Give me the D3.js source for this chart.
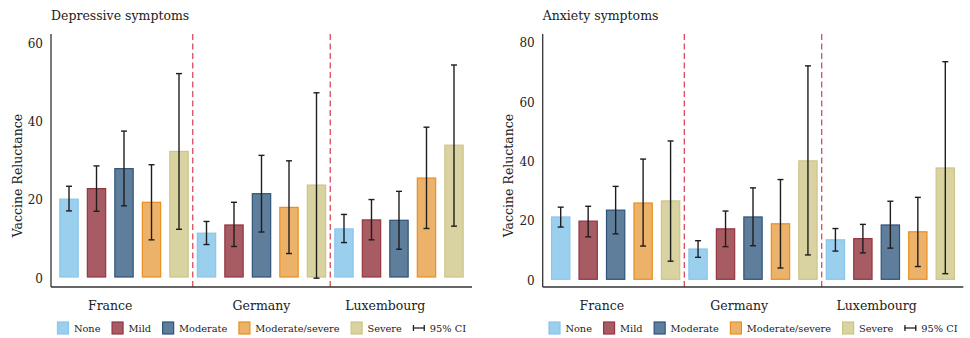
<!DOCTYPE html>
<html>
<head>
<meta charset="utf-8">
<script src="https://cdn.jsdelivr.net/npm/d3@7"></script>
<style>
  html, body { margin: 0; padding: 0; background: #fff; }
  svg { display: block; }
  text { font-family: "DejaVu Serif", "Liberation Serif", serif; fill: #222; }
</style>
</head>
<body>
<svg id="chart" width="970" height="338"></svg>
<script>
// Countries and symptom levels
const countries = ["France", "Germany", "Luxembourg"];
const levels = ["None", "Mild", "Moderate", "Moderate/severe", "Severe"];
const levelColors = ["#9bcfee", "#a65c62", "#5f7e9c", "#edb269", "#d9d3a2"];
const levelStrokes = ["#8ac5ec", "#963442", "#2f537a", "#e8901d", "#cdc487"];

// Depressive symptoms: estimate, lower and upper 95% CI (per country, per level)
const depEst = [
  [19.9, 22.6, 27.7, 19.1, 32.1],
  [11.2, 13.3, 21.3, 17.8, 23.5],
  [12.3, 14.6, 14.5, 25.3, 33.7]
];
const depLow = [
  [16.9, 16.8, 18.2, 9.5, 12.2],
  [8.3, 7.8, 11.5, 6.0, -0.3],
  [8.8, 9.5, 7.1, 12.4, 13.0]
];
const depHigh = [
  [23.2, 28.4, 37.3, 28.7, 52.0],
  [14.2, 19.1, 31.1, 29.7, 47.1],
  [16.0, 19.8, 21.9, 38.3, 54.2]
];

// Anxiety symptoms
const anxEst = [
  [21.0, 19.6, 23.3, 25.7, 26.4],
  [10.2, 17.0, 21.0, 18.7, 39.9],
  [13.3, 13.7, 18.3, 16.0, 37.5]
];
const anxLow = [
  [17.6, 14.3, 15.3, 11.2, 6.1],
  [7.4, 11.0, 11.3, 3.8, 8.2],
  [9.5, 8.9, 10.5, 4.3, 1.9]
];
const anxHigh = [
  [24.3, 24.6, 31.3, 40.5, 46.6],
  [13.0, 23.0, 30.8, 33.6, 71.9],
  [17.1, 18.5, 26.3, 27.6, 73.3]
];

const depTicks = [0, 20, 40, 60];
const anxTicks = [0, 20, 40, 60, 80];

// Where each country name sits, as a bar index within its group
const depLabelAt = [1.5, 2, 1.5];
const anxLabelAt = [1.5, 1.5, 1.5];

const svg = d3.select("#chart");

function drawPanel(opt) {
  const g = svg.append("g");
  const { left, right, top, axisY, zeroY, topVal, topY } = opt;

  // one band per bar, all countries in a row
  const keys = [];
  countries.forEach((c, ci) => levels.forEach((l, li) => keys.push(ci + "|" + li)));
  const x = d3.scaleBand().domain(keys).range([left, right])
    .paddingInner(0.29).paddingOuter(0.3);
  const y = d3.scaleLinear().domain([0, topVal]).range([zeroY, topY]);

  const rows = [];
  countries.forEach((c, ci) => levels.forEach((l, li) => rows.push({
    key: ci + "|" + li, ci, li,
    est: opt.est[ci][li], lo: opt.low[ci][li], hi: opt.high[ci][li]
  })));

  // bars
  g.selectAll("rect.bar").data(rows).enter().append("rect")
    .attr("class", "bar")
    .attr("x", d => x(d.key) + 0.6)
    .attr("width", x.bandwidth() - 1.2)
    .attr("y", d => y(d.est))
    .attr("height", d => y(0) - y(d.est))
    .attr("fill", d => levelColors[d.li])
    .attr("stroke", d => levelStrokes[d.li])
    .attr("stroke-width", 1.2);

  // error bars
  const cap = 3;
  const eb = g.selectAll("g.eb").data(rows).enter().append("g").attr("class", "eb")
    .attr("stroke", "#1e1e1e").attr("stroke-width", 1.4).attr("fill", "none");
  eb.append("line")
    .attr("x1", d => x(d.key) + x.bandwidth() / 2)
    .attr("x2", d => x(d.key) + x.bandwidth() / 2)
    .attr("y1", d => y(d.lo)).attr("y2", d => y(d.hi));
  eb.append("line")
    .attr("x1", d => x(d.key) + x.bandwidth() / 2 - cap)
    .attr("x2", d => x(d.key) + x.bandwidth() / 2 + cap)
    .attr("y1", d => y(d.lo)).attr("y2", d => y(d.lo));
  eb.append("line")
    .attr("x1", d => x(d.key) + x.bandwidth() / 2 - cap)
    .attr("x2", d => x(d.key) + x.bandwidth() / 2 + cap)
    .attr("y1", d => y(d.hi)).attr("y2", d => y(d.hi));

  // dashed separators between countries
  for (let ci = 1; ci < countries.length; ci++) {
    const prevEnd = x((ci - 1) + "|" + (levels.length - 1)) + x.bandwidth();
    const nextStart = x(ci + "|0");
    const sx = (prevEnd + nextStart) / 2;
    g.append("line")
      .attr("x1", sx).attr("x2", sx).attr("y1", top).attr("y2", axisY)
      .attr("stroke", "#dc4a5f").attr("stroke-width", 1.3)
      .attr("stroke-dasharray", "6,3.5");
  }

  // axes lines
  g.append("line").attr("x1", left).attr("x2", left).attr("y1", top).attr("y2", axisY)
    .attr("stroke", "#333").attr("stroke-width", 1.3);
  g.append("line").attr("x1", left).attr("x2", right).attr("y1", axisY).attr("y2", axisY)
    .attr("stroke", "#333").attr("stroke-width", 1.3);

  // tick labels
  g.selectAll("text.tick").data(opt.ticks).enter().append("text")
    .attr("class", "tick")
    .attr("x", left - 8).attr("y", d => y(d) + 1.5)
    .attr("text-anchor", "end").attr("dominant-baseline", "central")
    .style("font-size", "12px")
    .text(d => d);

  // country labels
  countries.forEach((c, ci) => {
    const pos = opt.labelAt[ci];
    const i0 = Math.floor(pos), i1 = Math.ceil(pos);
    const c0 = x(ci + "|" + i0) + x.bandwidth() / 2;
    const c1 = x(ci + "|" + i1) + x.bandwidth() / 2;
    const cx = c0 + (c1 - c0) * (pos - i0);
    g.append("text").attr("x", cx).attr("y", 310)
      .attr("text-anchor", "middle").style("font-size", "12.5px").text(c);
  });

  // titles
  g.append("text").attr("x", left).attr("y", 20)
    .style("font-size", "12.5px").text(opt.title);
  g.append("text")
    .attr("transform", `translate(${left - 34},${(top + axisY) / 2 + 15}) rotate(-90)`)
    .attr("text-anchor", "middle").attr("dominant-baseline", "central")
    .style("font-size", "12.5px").text("Vaccine Reluctance");

  // legend
  const lg = g.append("g");
  const gap = 11;
  let cursor = 0;
  const items = levels.map((l, i) => ({ label: l, i })).concat([{ label: "95% CI", i: -1 }]);
  items.forEach(it => {
    const ig = lg.append("g").attr("transform", `translate(${cursor},0)`);
    if (it.i >= 0) {
      ig.append("rect").attr("x", 0.6).attr("y", 322).attr("width", 11).attr("height", 12)
        .attr("fill", levelColors[it.i]).attr("stroke", levelStrokes[it.i]).attr("stroke-width", 1.2);
    } else {
      const s = ig.append("g").attr("stroke", "#222").attr("stroke-width", 1.3);
      s.append("line").attr("x1", 0).attr("x2", 12).attr("y1", 328).attr("y2", 328);
      s.append("line").attr("x1", 0.6).attr("x2", 0.6).attr("y1", 325).attr("y2", 331);
      s.append("line").attr("x1", 11.4).attr("x2", 11.4).attr("y1", 325).attr("y2", 331);
    }
    const t = ig.append("text").attr("x", 17).attr("y", 328)
      .attr("dominant-baseline", "central").style("font-size", "9.8px").text(it.label);
    cursor += 17 + t.node().getComputedTextLength() + gap;
  });
  const total = cursor - gap;
  lg.attr("transform", `translate(${(left + right) / 2 - total / 2},0)`);
}

drawPanel({
  title: "Depressive symptoms", left: 51, right: 472, top: 34, axisY: 287,
  zeroY: 277, topVal: 60, topY: 42.3,
  est: depEst, low: depLow, high: depHigh, ticks: depTicks, labelAt: depLabelAt
});
drawPanel({
  title: "Anxiety symptoms", left: 542.7, right: 963.3, top: 34, axisY: 287,
  zeroY: 279.3, topVal: 80, topY: 41.8,
  est: anxEst, low: anxLow, high: anxHigh, ticks: anxTicks, labelAt: anxLabelAt
});
</script>
</body>
</html>
